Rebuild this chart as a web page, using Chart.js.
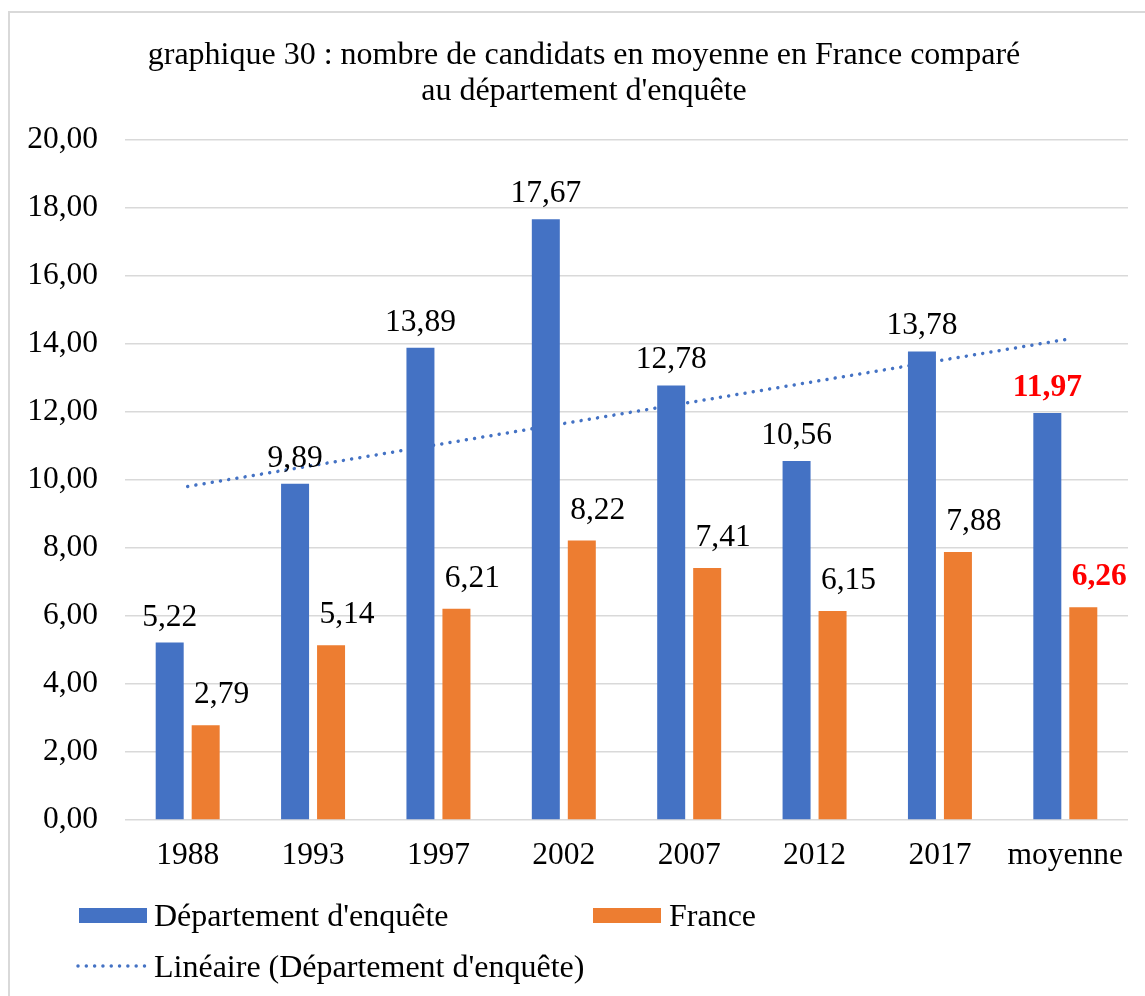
<!DOCTYPE html>
<html><head><meta charset="utf-8">
<script src="https://cdn.jsdelivr.net/npm/chart.js@4.4.1/dist/chart.umd.min.js"></script>
<style>
html,body{margin:0;padding:0;background:#fff;overflow:hidden;width:1145px;height:996px}
#frame{position:absolute;left:8px;top:11px;width:1200px;height:1100px;border:2px solid #d9d9d9;box-sizing:border-box}
#c{position:absolute;left:0;top:0}
</style></head><body>
<div id="frame"></div>
<canvas id="c" width="1145" height="996"></canvas>
<script>
// ---- data ----
const categories = ['1988', '1993', '1997', '2002', '2007', '2012', '2017', 'moyenne'];
const departement = [5.22, 9.89, 13.89, 17.67, 12.78, 10.56, 13.78, 11.97];
const france = [2.79, 5.14, 6.21, 8.22, 7.41, 6.15, 7.88, 6.26];
const trendEnds = [9.81, 14.13]; // linear trendline values at first and last category
const yTicks = [0, 2, 4, 6, 8, 10, 12, 14, 16, 18, 20];
const titleLines = ["graphique 30 : nombre de candidats en moyenne en France comparé", "au département d'enquête"];
const seriesNames = ["Département d'enquête", "France", "Linéaire (Département d'enquête)"];

// ---- style ----
const BLUE = '#4472C4', ORANGE = '#ED7D31', GRID = '#d9d9d9';
const FAM = "'Liberation Serif', 'Times New Roman', serif";
const FS = 31.5;
const FS_TITLE = 32;
const FS_LEG = 32;
Chart.defaults.font.family = FAM;
Chart.defaults.color = '#000';

const fmt = v => v.toFixed(2).replace('.', ',');

const trendData = categories.map((c, i) => i === 0 ? trendEnds[0] : (i === categories.length - 1 ? trendEnds[1] : null));

const labelsPlugin = {
  id: 'barLabels',
  afterDatasetsDraw(chart) {
    const ctx = chart.ctx;
    ctx.save();
    ctx.textAlign = 'center';
    ctx.textBaseline = 'alphabetic';
    [0, 1].forEach(di => {
      const meta = chart.getDatasetMeta(di);
      const vals = chart.data.datasets[di].data;
      const dx = di === 1 ? 16 : 0;
      meta.data.forEach((bar, i) => {
        const last = i === vals.length - 1;
        ctx.font = (last ? 'bold ' : '') + FS + 'px ' + FAM;
        ctx.fillStyle = last ? '#FF0000' : '#000';
        ctx.fillText(fmt(vals[i]), bar.x + dx, bar.y - (di === 1 ? 22 : 17));
      });
    });
    ctx.restore();
  }
};

const decorPlugin = {
  id: 'decor',
  afterDraw(chart) {
    const ctx = chart.ctx;
    ctx.save();
    // title
    ctx.fillStyle = '#000';
    ctx.font = FS_TITLE + 'px ' + FAM;
    ctx.textAlign = 'center';
    ctx.textBaseline = 'alphabetic';
    ctx.fillText(titleLines[0], 584, 64);
    ctx.fillText(titleLines[1], 584, 100);
    // legend
    ctx.font = FS_LEG + 'px ' + FAM;
    ctx.textAlign = 'left';
    ctx.fillStyle = BLUE;
    ctx.fillRect(79, 908, 68, 15);
    ctx.fillStyle = ORANGE;
    ctx.fillRect(593, 908, 68, 15);
    ctx.fillStyle = '#000';
    ctx.fillText(seriesNames[0], 154, 926);
    ctx.fillText(seriesNames[1], 669, 926);
    ctx.fillText(seriesNames[2], 154, 977);
    ctx.strokeStyle = BLUE;
    ctx.lineWidth = 3.5;
    ctx.lineCap = 'round';
    ctx.setLineDash([0.01, 8.3]);
    ctx.beginPath();
    ctx.moveTo(78, 966);
    ctx.lineTo(147, 966);
    ctx.stroke();
    ctx.restore();
  }
};

new Chart(document.getElementById('c'), {
  type: 'bar',
  data: {
    labels: categories,
    datasets: [
      { label: seriesNames[0], data: departement, backgroundColor: BLUE, categoryPercentage: 0.574, barPercentage: 0.778, order: 0 },
      { label: seriesNames[1], data: france, backgroundColor: ORANGE, categoryPercentage: 0.574, barPercentage: 0.778, order: 0 },
      { type: 'line', label: seriesNames[2], data: trendData, spanGaps: true, borderColor: BLUE, borderWidth: 3.5,
        borderDash: [0.01, 8.3], borderCapStyle: 'round', pointRadius: 0, fill: false, order: 1 }
    ]
  },
  options: {
    responsive: false,
    animation: false,
    devicePixelRatio: 1,
    layout: { padding: { top: 140, left: 0, right: 17, bottom: 116 } },
    plugins: { legend: { display: false }, title: { display: false }, tooltip: { enabled: false } },
    scales: {
      x: {
        grid: { display: false, drawTicks: false },
        border: { display: false },
        ticks: { font: { size: FS, family: FAM }, color: '#000', padding: 17, maxRotation: 0, autoSkip: false },
        afterFit(s) { s.height = 60; }
      },
      y: {
        min: 0, max: 20,
        afterBuildTicks(s) { s.ticks = yTicks.map(v => ({ value: v })); },
        grid: { color: GRID, lineWidth: 1.5, drawTicks: false },
        border: { display: false },
        ticks: { font: { size: FS, family: FAM }, color: '#000', padding: 27, callback: v => fmt(v) },
        afterFit(s) { s.width = 125; }
      }
    }
  },
  plugins: [labelsPlugin, decorPlugin]
});
</script>
</body></html>
